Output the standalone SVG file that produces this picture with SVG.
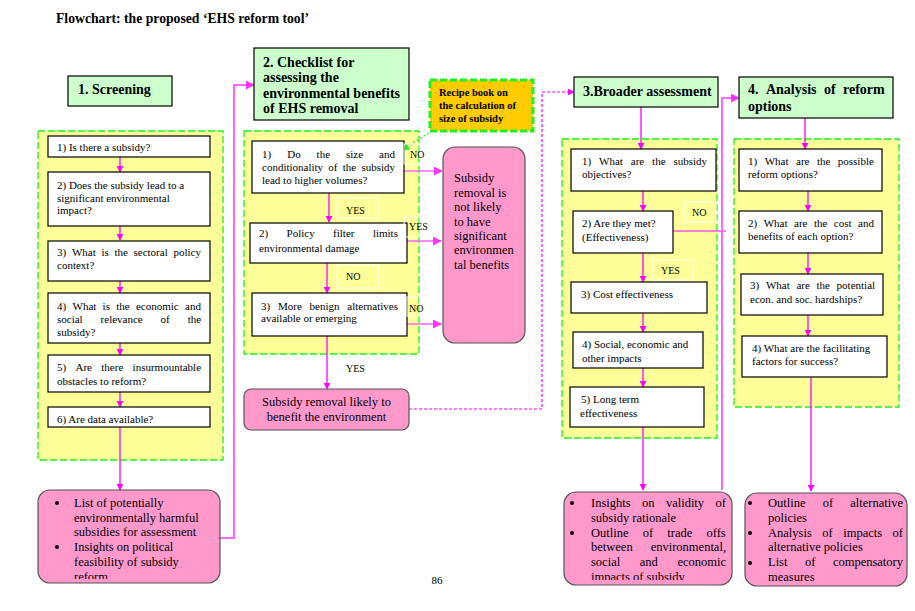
<svg xmlns="http://www.w3.org/2000/svg" width="915" height="611" viewBox="0 0 915 611">
<style>
text{font-family:"Liberation Serif","Times New Roman",serif;fill:#000}
.t{font-size:11px}
.h{font-size:14px;font-weight:bold}
.r{font-size:10.5px;font-weight:bold}
.p{font-size:12.5px}
.l{font-size:10px}
.cont{fill:#FFFF99;stroke:#22EE22;stroke-width:1.3;stroke-dasharray:7 3}
.box{fill:#fff;stroke:#000;stroke-width:1.2}
.hdr{fill:#CCFFCC;stroke:#000;stroke-width:1.2}
.pink{fill:#FF99CC;stroke:#555;stroke-width:1.2}
.lab{fill:none;stroke:#fff;stroke-width:1}
.a{fill:none;stroke:#FF00FF;stroke-width:1.3}
.a2{fill:none;stroke:#FF66FF;stroke-width:2}
.d{fill:none;stroke:#FF00FF;stroke-width:1.2;stroke-dasharray:3 2}
</style>
<defs>
<marker id="ah" viewBox="0 0 10 10" refX="9" refY="5" markerWidth="7" markerHeight="7" markerUnits="userSpaceOnUse" orient="auto"><path d="M0,0 L10,5 L0,10 z" fill="#FF00FF"/></marker>
<marker id="ah2" viewBox="0 0 10 10" refX="9" refY="5" markerWidth="9" markerHeight="9" markerUnits="userSpaceOnUse" orient="auto"><path d="M0,0 L10,5 L0,10 z" fill="#FF33FF"/></marker>
<marker id="ag" viewBox="0 0 10 10" refX="9" refY="5" markerWidth="8" markerHeight="8" markerUnits="userSpaceOnUse" orient="auto"><path d="M0,0 L10,5 L0,10 z" fill="#22EE22"/></marker>
<clipPath id="c1"><rect x="38" y="490" width="182" height="89"/></clipPath>
<clipPath id="c3"><rect x="564" y="492" width="168" height="88"/></clipPath>
<clipPath id="c4"><rect x="745" y="493" width="162" height="92"/></clipPath>
</defs>
<rect width="915" height="611" fill="#fff"/>
<text x="56" y="23" style="font-size:13.7px;font-weight:bold">Flowchart: the proposed ‘EHS reform tool’</text>

<!-- containers -->
<rect class="cont" x="38" y="131" width="185" height="329"/>
<rect class="cont" x="244" y="131" width="175" height="223"/>
<rect class="cont" x="562" y="139" width="155" height="299"/>
<rect class="cont" x="734" y="139" width="165" height="268"/>

<g id="connectors">
<!-- column 1 -->
<path class="a" d="M120,157 V172" marker-end="url(#ah)"/>
<path class="a" d="M120,226 V240" marker-end="url(#ah)"/>
<path class="a" d="M120,281 V293" marker-end="url(#ah)"/>
<path class="a" d="M120,343 V355" marker-end="url(#ah)"/>
<path class="a" d="M120,392 V407" marker-end="url(#ah)"/>
<path class="a" d="M120,427 V490" marker-end="url(#ah)"/>
<path class="a2" d="M213,538 H234 V85 H254" marker-end="url(#ah2)"/>
<!-- column 2 -->
<path class="a" d="M329,193 V222" marker-end="url(#ah)"/>
<path class="a" d="M327,263 V293" marker-end="url(#ah)"/>
<path class="a" d="M327,336 V389" marker-end="url(#ah)"/>
<path class="a2" style="stroke-width:1.3" d="M402,171 H442" marker-end="url(#ah2)"/>
<path class="a2" style="stroke-width:1.3" d="M407,241 H441" marker-end="url(#ah2)"/>
<path class="a2" style="stroke-width:1.3" d="M407,324 H441" marker-end="url(#ah2)"/>
<path d="M432,131 L402,150" fill="none" stroke="#22EE22" stroke-width="1.2" stroke-dasharray="2 2" marker-end="url(#ag)"/>
<path class="d" d="M409,409 H542 V92 H574" marker-end="url(#ah)"/>
<!-- column 3 -->
<path class="a" d="M641,107 V149" marker-end="url(#ah)"/>
<path class="a" d="M643,191 V211" marker-end="url(#ah)"/>
<path class="a" d="M643,253 V282" marker-end="url(#ah)"/>
<path class="a" d="M643,313 V332" marker-end="url(#ah)"/>
<path class="a" d="M643,368 V387" marker-end="url(#ah)"/>
<path class="a" d="M643,427 V490" marker-end="url(#ah)"/>
<path class="a" style="stroke-width:1" d="M673,231 H726"/>
<path class="a2" d="M722,490 V98 H739" marker-end="url(#ah2)"/>
<!-- column 4 -->
<path class="a" d="M805,118 V149" marker-end="url(#ah)"/>
<path class="a" d="M808,191 V211" marker-end="url(#ah)"/>
<path class="a" d="M808,253 V274" marker-end="url(#ah)"/>
<path class="a" d="M808,315 V336" marker-end="url(#ah)"/>
<path class="a" d="M811,377 V491" marker-end="url(#ah)"/>
</g>

<!-- headers -->
<g id="h1"><rect class="hdr" x="68" y="76" width="104" height="30"/><text class="h" x="78" y="94">1. Screening</text></g>
<g id="h2"><rect class="hdr" x="254" y="48" width="155" height="72"/>
<text class="h" x="263" y="67">2. Checklist for</text>
<text class="h" x="263" y="82">assessing the</text>
<text class="h" x="263" y="98">environmental benefits</text>
<text class="h" x="263" y="113">of EHS removal</text></g>
<g id="recipe"><rect x="430" y="80" width="103" height="51" fill="#FFCC00" stroke="#22EE22" stroke-width="3" stroke-dasharray="7 3"/>
<text class="r" x="439" y="96">Recipe book on</text>
<text class="r" x="439" y="109">the calculation of</text>
<text class="r" x="439" y="122">size of subsidy</text></g>
<g id="h3"><rect class="hdr" x="574" y="77" width="144" height="30"/><text class="h" x="583" y="96">3.Broader assessment</text></g>
<g id="h4"><rect class="hdr" x="739" y="77" width="154" height="41"/>
<text class="h" y="94"><tspan x="748">4.</tspan><tspan x="765.9">Analysis</tspan><tspan x="823.9">of</tspan><tspan x="843">reform</tspan></text>
<text class="h" x="748" y="111">options</text></g>

<!-- column 1 boxes -->
<g id="s1"><rect class="box" x="48" y="136" width="162" height="21"/><text class="t" x="57" y="151">1) Is there a subsidy?</text></g>
<g id="s2"><rect class="box" x="48" y="172" width="162" height="54"/>
<text class="t" x="57" y="189">2) Does the subsidy lead to a</text>
<text class="t" x="57" y="202">significant environmental</text>
<text class="t" x="57" y="214">impact?</text></g>
<g id="s3"><rect class="box" x="48" y="241" width="162" height="40"/>
<text class="t" y="256"><tspan x="57">3)</tspan><tspan x="71.9">What</tspan><tspan x="101.4">is</tspan><tspan x="114.4">the</tspan><tspan x="133.5">sectoral</tspan><tspan x="173.4">policy</tspan></text>
<text class="t" x="57" y="269">context?</text></g>
<g id="s4"><rect class="box" x="48" y="293" width="162" height="50"/>
<text class="t" y="310"><tspan x="57">4)</tspan><tspan x="72.5">What</tspan><tspan x="102.6">is</tspan><tspan x="116.2">the</tspan><tspan x="135.9">economic</tspan><tspan x="185">and</tspan></text>
<text class="t" y="323"><tspan x="57">social</tspan><tspan x="100.6">relevance</tspan><tspan x="160.6">of</tspan><tspan x="187.7">the</tspan></text>
<text class="t" x="57" y="336">subsidy?</text></g>
<g id="s5"><rect class="box" x="48" y="355" width="162" height="37"/>
<text class="t" y="371"><tspan x="57">5)</tspan><tspan x="75.5">Are</tspan><tspan x="101.3">there</tspan><tspan x="132.6">insurmountable</tspan></text>
<text class="t" x="57" y="385">obstacles to reform?</text></g>
<g id="s6"><rect class="box" x="48" y="407" width="162" height="20"/><text class="t" x="57" y="423">6) Are data available?</text></g>
<g id="out1"><rect class="pink" x="38" y="490" width="182" height="93" rx="12"/>
<circle cx="57" cy="503" r="2"/><circle cx="57" cy="547" r="2"/>
<g clip-path="url(#c1)">
<text class="p" x="74" y="507">List of potentially</text>
<text class="p" x="74" y="522">environmentally harmful</text>
<text class="p" x="74" y="536">subsidies for assessment</text>
<text class="p" x="74" y="551">Insights on political</text>
<text class="p" x="74" y="566">feasibility of subsidy</text>
<text class="p" x="74" y="581">reform</text></g></g>

<!-- column 2 boxes -->
<g id="c2b1"><rect class="box" x="252" y="141" width="152" height="52"/>
<text class="t" y="158"><tspan x="262">1)</tspan><tspan x="287.2">Do</tspan><tspan x="316.6">the</tspan><tspan x="346">size</tspan><tspan x="379.1">and</tspan></text>
<text class="t" y="171"><tspan x="262">conditionality</tspan><tspan x="328.2">of</tspan><tspan x="342.7">the</tspan><tspan x="361.4">subsidy</tspan></text>
<text class="t" x="262" y="184">lead to higher volumes?</text></g>
<g id="c2b2"><rect class="box" x="250" y="223" width="157" height="40"/>
<text class="t" y="237"><tspan x="259">2)</tspan><tspan x="286.6">Policy</tspan><tspan x="333.1">filter</tspan><tspan x="372.9">limits</tspan></text>
<text class="t" x="259" y="252">environmental damage</text></g>
<g id="c2b3"><rect class="box" x="252" y="293" width="155" height="43"/>
<text class="t" y="310"><tspan x="261">3)</tspan><tspan x="278">More</tspan><tspan x="309.6">benign</tspan><tspan x="347.3">alternatives</tspan></text>
<text class="t" x="261" y="322">available or emerging</text></g>
<g id="lab2"><rect class="lab" x="337" y="198" width="41" height="20"/><text class="l" x="346" y="214">YES</text>
<rect class="lab" x="337" y="265" width="41" height="23"/><text class="l" x="346" y="280">NO</text>
<rect class="lab" x="404" y="144" width="16" height="20"/><text class="l" x="410" y="158">NO</text>
<rect class="lab" x="404" y="217" width="16" height="20"/><text class="l" x="409" y="230">YES</text>
<rect class="lab" x="407" y="297" width="13" height="19"/><text class="l" x="409" y="312">NO</text>
<text class="l" x="346" y="372">YES</text></g>
<g id="notlikely"><rect class="pink" x="443" y="147" width="82" height="196" rx="12"/>
<text class="p" x="454" y="182">Subsidy</text>
<text class="p" x="454" y="197">removal is</text>
<text class="p" x="454" y="211">not likely</text>
<text class="p" x="454" y="226">to have</text>
<text class="p" x="454" y="240">significant</text>
<text class="p" x="454" y="254">environmen</text>
<text class="p" x="454" y="269">tal benefits</text></g>
<g id="likely"><rect class="pink" x="244" y="389" width="165" height="41" rx="7"/>
<text class="p" x="326.5" y="406" text-anchor="middle">Subsidy removal likely to</text>
<text class="p" x="326.5" y="421" text-anchor="middle">benefit the environment</text></g>

<!-- column 3 boxes -->
<g id="c3b1"><rect class="box" x="571" y="149" width="145" height="42"/>
<text class="t" y="165"><tspan x="582">1)</tspan><tspan x="599.1">What</tspan><tspan x="630.8">are</tspan><tspan x="652.1">the</tspan><tspan x="673.4">subsidy</tspan></text>
<text class="t" x="582" y="178">objectives?</text></g>
<g id="c3b2"><rect class="box" x="573" y="211" width="100" height="42"/>
<text class="t" x="582" y="227">2) Are they met?</text>
<text class="t" x="582" y="241">(Effectiveness)</text></g>
<g id="c3b3"><rect class="box" x="571" y="282" width="136" height="31"/><text class="t" x="581" y="298">3) Cost effectiveness</text></g>
<g id="c3b4"><rect class="box" x="573" y="332" width="130" height="36"/>
<text class="t" x="582" y="348">4) Social, economic and</text>
<text class="t" x="582" y="362">other impacts</text></g>
<g id="c3b5"><rect class="box" x="570" y="387" width="134" height="40"/>
<text class="t" x="581" y="403">5) Long term</text>
<text class="t" x="580" y="417">effectiveness</text></g>
<g id="lab3"><rect class="lab" x="684" y="202" width="32" height="20"/><text class="l" x="692" y="216">NO</text>
<rect class="lab" x="652" y="260" width="41" height="20"/><text class="l" x="661" y="274">YES</text></g>
<g id="out3"><rect class="pink" x="564" y="492" width="168" height="93" rx="12"/>
<circle cx="572" cy="503" r="2"/><circle cx="572" cy="533" r="2"/>
<g clip-path="url(#c3)">
<text class="p" y="507"><tspan x="591">Insights</tspan><tspan x="642">on</tspan><tspan x="665.9">validity</tspan><tspan x="715.5">of</tspan></text>
<text class="p" x="591" y="522">subsidy rationale</text>
<text class="p" y="537"><tspan x="591">Outline</tspan><tspan x="642.7">of</tspan><tspan x="667.3">trade</tspan><tspan x="706.5">offs</tspan></text>
<text class="p" y="551"><tspan x="591">between</tspan><tspan x="650.7">environmental,</tspan></text>
<text class="p" y="566"><tspan x="591">social</tspan><tspan x="639.8">and</tspan><tspan x="677.4">economic</tspan></text>
<text class="p" x="591" y="581">impacts of subsidy</text></g></g>

<!-- column 4 boxes -->
<g id="c4b1"><rect class="box" x="739" y="149" width="143" height="42"/>
<text class="t" y="165"><tspan x="748">1)</tspan><tspan x="764.7">What</tspan><tspan x="796">are</tspan><tspan x="816.9">the</tspan><tspan x="837.8">possible</tspan></text>
<text class="t" x="748" y="178">reform options?</text></g>
<g id="c4b2"><rect class="box" x="739" y="211" width="143" height="42"/>
<text class="t" y="227"><tspan x="748">2)</tspan><tspan x="763.7">What</tspan><tspan x="794">are</tspan><tspan x="813.9">the</tspan><tspan x="833.8">cost</tspan><tspan x="858">and</tspan></text>
<text class="t" x="748" y="240">benefits of each option?</text></g>
<g id="c4b3"><rect class="box" x="741" y="274" width="142" height="41"/>
<text class="t" y="289"><tspan x="750">3)</tspan><tspan x="765.9">What</tspan><tspan x="796.4">are</tspan><tspan x="816.5">the</tspan><tspan x="836.6">potential</tspan></text>
<text class="t" x="750" y="303">econ. and soc. hardships?</text></g>
<g id="c4b4"><rect class="box" x="742" y="336" width="145" height="41"/>
<text class="t" x="752" y="352">4) What are the facilitating</text>
<text class="t" x="752" y="365">factors for success?</text></g>
<g id="out4"><rect class="pink" x="745" y="493" width="162" height="93" rx="12"/>
<circle cx="750" cy="503" r="2"/><circle cx="750" cy="533" r="2"/><circle cx="750" cy="563" r="2"/>
<g clip-path="url(#c4)">
<text class="p" y="507"><tspan x="768">Outline</tspan><tspan x="822.7">of</tspan><tspan x="850.2">alternative</tspan></text>
<text class="p" x="768" y="522">policies</text>
<text class="p" y="537"><tspan x="768">Analysis</tspan><tspan x="822.3">of</tspan><tspan x="843.2">impacts</tspan><tspan x="892.6">of</tspan></text>
<text class="p" x="768" y="551">alternative policies</text>
<text class="p" y="566"><tspan x="768">List</tspan><tspan x="805">of</tspan><tspan x="832.9">compensatory</tspan></text>
<text class="p" x="768" y="581">measures</text></g></g>

<text x="437" y="584" text-anchor="middle" style="font-size:11px">86</text>
</svg>
